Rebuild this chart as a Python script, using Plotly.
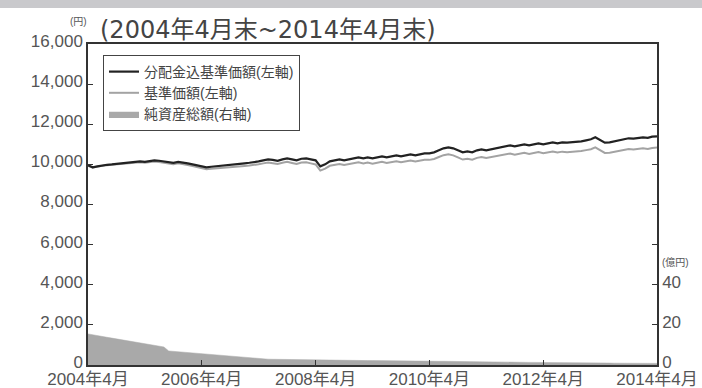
import pandas as pd
import plotly.graph_objects as go

months = pd.date_range("2004-04-01", periods=121, freq="MS")

nav_with_div = [
    9950, 9850, 9900, 9950, 9980, 10000, 10020, 10050, 10080, 10100, 10120, 10150,
    10130, 10170, 10200, 10180, 10150, 10100, 10080, 10120, 10100, 10050, 10000, 9950,
    9900, 9850, 9880, 9900, 9920, 9950, 9980, 10000, 10020, 10050, 10080, 10100,
    10150, 10200, 10250, 10220, 10180, 10250, 10300, 10250, 10200, 10280, 10300, 10250,
    10200, 9900, 10000, 10150, 10200, 10250, 10200, 10250, 10300, 10350, 10300, 10350,
    10300, 10350, 10400, 10350, 10400, 10450, 10400, 10450, 10500, 10450, 10500, 10550,
    10550, 10600, 10700, 10800, 10850, 10800, 10700, 10600, 10650, 10600, 10700, 10750,
    10700, 10750, 10800, 10850, 10900, 10950, 10900, 10950, 11000, 10950, 11000, 11050,
    11000, 11050, 11100, 11050, 11100, 11080, 11100, 11120, 11150, 11200, 11250, 11350,
    11200, 11080, 11100, 11150, 11200, 11250, 11300, 11280, 11300, 11350, 11320, 11380,
    11400,
]

nav = [
    9940, 9840, 9890, 9935, 9960, 9980, 9995, 10020, 10045, 10065, 10080, 10105,
    10080, 10120, 10145, 10120, 10090, 10035, 10010, 10050, 10025, 9970, 9920, 9865,
    9810, 9760, 9785, 9800, 9815, 9840, 9865, 9880, 9895, 9920, 9945, 9960,
    10005, 10050, 10095, 10060, 10015, 10080, 10125, 10070, 10015, 10090, 10105, 10050,
    9995, 9690, 9785, 9930, 9975, 10020, 9965, 10010, 10055, 10100, 10045, 10090,
    10035, 10080, 10125, 10070, 10115, 10160, 10105, 10150, 10195, 10140, 10185, 10230,
    10225, 10270, 10365, 10460, 10505, 10450, 10345, 10240, 10285, 10230, 10325, 10370,
    10315, 10360, 10405, 10450, 10495, 10540, 10485, 10530, 10575, 10520, 10565, 10610,
    10555, 10600, 10645, 10590, 10635, 10610, 10625, 10640, 10665, 10710, 10755, 10850,
    10695, 10570, 10585, 10630, 10675, 10720, 10765, 10740, 10755, 10800, 10765, 10820,
    10840,
]

net_assets = [
    15.5, 15.0, 14.6, 14.2, 13.8, 13.4, 13.0, 12.6, 12.2, 11.8, 11.4, 11.0,
    10.6, 10.2, 9.8, 9.4, 9.0, 7.0, 6.8, 6.6, 6.4, 6.2, 6.0, 5.7,
    5.5, 5.3, 5.0, 4.8, 4.6, 4.4, 4.2, 4.0, 3.8, 3.6, 3.4, 3.2,
    3.0, 2.95, 2.9, 2.85, 2.8, 2.75, 2.7, 2.7, 2.65, 2.6, 2.6, 2.55,
    2.5, 2.5, 2.45, 2.45, 2.4, 2.4, 2.35, 2.35, 2.3, 2.3, 2.25, 2.2,
    2.2, 2.15, 2.15, 2.1, 2.1, 2.05, 2.05, 2.0, 2.0, 2.0, 1.95, 1.95,
    1.9, 1.9, 1.85, 1.85, 1.8, 1.8, 1.75, 1.7, 1.7, 1.65, 1.6, 1.6,
    1.55, 1.5, 1.5, 1.45, 1.45, 1.4, 1.4, 1.35, 1.35, 1.3, 1.3, 1.3,
    1.25, 1.25, 1.2, 1.2, 1.15, 1.15, 1.1, 1.1, 1.05, 1.05, 1.0, 1.0,
    1.0, 0.95, 0.95, 0.9, 0.9, 0.9, 0.85, 0.85, 0.85, 0.8, 0.8, 0.8,
    0.8,
]

names = ["分配金込基準価額(左軸)", "基準価額(左軸)", "純資産総額(右軸)"]
x_tickvals = ["2004-04-01", "2006-04-01", "2008-04-01", "2010-04-01", "2012-04-01", "2014-04-01"]
x_ticktext = ["2004年4月", "2006年4月", "2008年4月", "2010年4月", "2012年4月", "2014年4月"]
y_tickvals = [0, 2000, 4000, 6000, 8000, 10000, 12000, 14000, 16000]
y2_tickvals = [0, 20, 40, 60, 80, 100, 120, 140, 160]
y2_ticktext = ["0", "20", "40", "", "", "", "", "", ""]

FONT = "Liberation Sans, Noto Sans CJK JP, sans-serif"
TITLE_FONT = "DejaVu Sans, Noto Sans CJK JP, sans-serif"
TICK_COLOR = "#555555"

# plot area in pixels: left 88, right 657, top 44, bottom 365
PL, PR, PT, PB = 88, 657, 44, 365
PW, PH = PR - PL, PB - PT

fig = go.Figure()
fig.add_trace(go.Scatter(
    x=months, y=net_assets, name=names[2], yaxis="y2", mode="lines",
    fill="tozeroy", fillcolor="#a9a9a9", line=dict(color="#a9a9a9", width=0.5),
    legendrank=3,
))
fig.add_trace(go.Scatter(
    x=months, y=nav, name=names[1], mode="lines",
    line=dict(color="#a3a3a3", width=2), legendrank=2,
))
fig.add_trace(go.Scatter(
    x=months, y=nav_with_div, name=names[0], mode="lines",
    line=dict(color="#222222", width=2.2), legendrank=1,
))

fig.update_layout(
    width=702, height=388,
    margin=dict(l=PL, r=702 - PR, t=PT, b=388 - PB),
    paper_bgcolor="white", plot_bgcolor="white",
    font=dict(family=FONT, color=TICK_COLOR),
    showlegend=True,
    legend=dict(
        x=(103 - PL) / PW, y=1 - (55 - PT) / PH, xanchor="left", yanchor="top",
        bgcolor="white", bordercolor="#444444", borderwidth=1,
        font=dict(size=14, color="#444444"), itemwidth=30,
        tracegroupgap=0, traceorder="normal",
    ),
    xaxis=dict(
        range=["2004-04-01", "2014-04-01"], tickvals=x_tickvals, ticktext=x_ticktext,
        showgrid=False, zeroline=False, showline=True, linecolor="#333333", linewidth=1.5,
        mirror=True, ticks="inside", ticklen=5, tickcolor="#333333",
        tickfont=dict(size=17, color=TICK_COLOR), ticklabelstandoff=-2,
        automargin=False,
    ),
    yaxis=dict(
        range=[0, 16000], tickvals=y_tickvals, tickformat=",",
        showgrid=False, zeroline=False, showline=True, linecolor="#333333", linewidth=1.5,
        ticks="inside", ticklen=5, tickcolor="#333333",
        tickfont=dict(size=17, color=TICK_COLOR), automargin=False,
        ticklabelshift=-3,
    ),
    yaxis2=dict(
        range=[0, 160], tickvals=y2_tickvals, ticktext=y2_ticktext,
        overlaying="y", side="right", showgrid=False, zeroline=False,
        showline=True, linecolor="#333333", linewidth=1.5,
        ticks="inside", ticklen=5, tickcolor="#333333",
        tickfont=dict(size=17, color=TICK_COLOR), automargin=False,
        ticklabelshift=-3,
    ),
    shapes=[dict(
        type="rect", xref="paper", yref="paper", x0=-0.2, x1=1.1,
        y0=1 + (PT - 8) / PH, y1=1 + (PT + 2) / PH, fillcolor="#c9c9cc", line=dict(width=0),
        layer="above",
    )],
    annotations=[
        dict(text="(2004年4月末~2014年4月末)", xref="paper", yref="paper",
             x=(98 - PL) / PW, y=1 + (PT - 30) / PH, xanchor="left", yanchor="middle",
             showarrow=False, font=dict(family=TITLE_FONT, size=24, color="#444444")),
        dict(text="(円)", xref="paper", yref="paper",
             x=(78 - PL) / PW, y=1 + (PT - 22) / PH, xanchor="center", yanchor="middle",
             showarrow=False, font=dict(size=10, color="#555555")),
        dict(text="(億円)", xref="paper", yref="paper",
             x=1 + (675 - PR) / PW, y=(PB - 262) / PH, xanchor="center", yanchor="middle",
             showarrow=False, font=dict(size=10, color="#555555")),
    ],
)

fig.write_html("out.html")
